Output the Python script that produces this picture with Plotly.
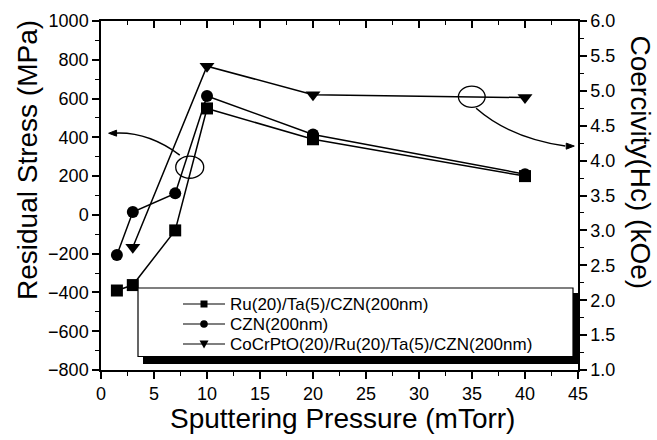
import plotly.graph_objects as go

# ---- data ----
pressure_ru = [1.5, 3, 7, 10, 20, 40]
stress_ru = [-390, -362, -80, 549, 390, 200]

pressure_czn = [1.5, 3, 7, 10, 20, 40]
stress_czn = [-207, 15, 111, 613, 415, 210]

pressure_co = [3, 10, 20, 40]
stress_co = [-167, 767, 620, 605]

series_names = ["Ru(20)/Ta(5)/CZN(200nm)", "CZN(200nm)", "CoCrPtO(20)/Ru(20)/Ta(5)/CZN(200nm)"]
series_symbols = ["square", "circle", "triangle-down"]
series_sizes = [12, 12, 13]

x_ticks = [0, 5, 10, 15, 20, 25, 30, 35, 40, 45]
left_ticks = [-800, -600, -400, -200, 0, 200, 400, 600, 800, 1000]
right_ticks = [1.0, 1.5, 2.0, 2.5, 3.0, 3.5, 4.0, 4.5, 5.0, 5.5, 6.0]

FONT = "Liberation Sans, Arial, Helvetica, sans-serif"

# plot area in page pixels
L, R, T, B = 101, 578, 21, 370
W, H = R - L, B - T


def px(x):
    return (x - L) / W


def py(y):
    return (B - y) / H


fig = go.Figure()
xs = [pressure_ru, pressure_czn, pressure_co]
ys = [stress_ru, stress_czn, stress_co]
for x, y, sym, sz, nm in zip(xs, ys, series_symbols, series_sizes, series_names):
    fig.add_trace(go.Scatter(
        x=x, y=y, mode="lines+markers", showlegend=False, name=nm,
        line=dict(color="black", width=1.5),
        marker=dict(symbol=sym, size=sz, color="black"),
    ))

# anchor traces for the secondary axes
fig.add_trace(go.Scatter(x=[None], y=[None], yaxis="y2", showlegend=False, hoverinfo="skip"))
fig.add_trace(go.Scatter(x=[None], y=[None], xaxis="x2", showlegend=False, hoverinfo="skip"))

axis_common = dict(showline=True, linecolor="black", linewidth=1.5, showgrid=False,
                   zeroline=False, tickcolor="black", tickwidth=1.5,
                   tickfont=dict(family=FONT, size=18, color="black"))

shapes = [
    # ellipses
    dict(type="circle", xref="x", yref="y", x0=7.05, x1=9.69, y0=189, y1=303,
         line=dict(color="black", width=1.3)),
    dict(type="circle", xref="x", yref="y", x0=33.72, x1=36.24, y0=554, y1=664,
         line=dict(color="black", width=1.3)),
    # curved arrows
    dict(type="path", xref="x", yref="y", path="M 7.43,308 Q 4.40,432 1.19,421",
         line=dict(color="black", width=1.5)),
    dict(type="path", xref="x", yref="y", path="M 0.72,421 L 1.47,437 L 1.47,406 Z",
         line=dict(color="black", width=1), fillcolor="black"),
    dict(type="path", xref="x", yref="y", path="M 35.39,550 Q 38.60,396 43.80,355",
         line=dict(color="black", width=1.5)),
    dict(type="path", xref="x", yref="y", path="M 44.65,355 L 43.89,370 L 43.89,339 Z",
         line=dict(color="black", width=1), fillcolor="black"),
    # legend box shadow + box
    dict(type="rect", xref="paper", yref="paper", x0=px(143), x1=px(578.5),
         y0=py(364), y1=py(293), layer="above",
         line=dict(width=0), fillcolor="black"),
    dict(type="rect", xref="paper", yref="paper", x0=px(138), x1=px(573),
         y0=py(356.5), y1=py(288), layer="above",
         line=dict(color="black", width=1.2), fillcolor="white"),
]

annotations = [
    dict(text="Residual Stress (MPa)", xref="paper", yref="paper",
         x=px(27.5), y=py(160.5), textangle=-90,
         xanchor="center", yanchor="middle", showarrow=False,
         font=dict(family=FONT, size=28, color="black")),
    dict(text="Coercivity(Hc) (kOe)", xref="paper", yref="paper",
         x=px(640), y=py(162.5), textangle=90,
         xanchor="center", yanchor="middle", showarrow=False,
         font=dict(family=FONT, size=28, color="black")),
    dict(text="Sputtering Pressure (mTorr)", xref="paper", yref="paper",
         x=px(342.5), y=py(418),
         xanchor="center", yanchor="middle", showarrow=False,
         font=dict(family=FONT, size=28, color="black")),
]

# legend drawn as keys + text inside the box
row_y = [304, 324, 344]
key_x0, key_x1, key_mid, text_x = 183, 225, 204, 228
for name, sym, ry in zip(series_names, series_symbols, row_y):
    shapes.append(dict(type="line", xref="paper", yref="paper", layer="above",
                       x0=px(key_x0), x1=px(key_x1), y0=py(ry), y1=py(ry),
                       line=dict(color="black", width=1.2)))
    if sym == "square":
        shapes.append(dict(type="rect", xref="paper", yref="paper", layer="above",
                           x0=px(key_mid - 3.5), x1=px(key_mid + 3.5),
                           y0=py(ry + 3.5), y1=py(ry - 3.5),
                           line=dict(width=0), fillcolor="black"))
    elif sym == "circle":
        shapes.append(dict(type="circle", xref="paper", yref="paper", layer="above",
                           x0=px(key_mid - 3.8), x1=px(key_mid + 3.8),
                           y0=py(ry + 3.8), y1=py(ry - 3.8),
                           line=dict(width=0), fillcolor="black"))
    else:
        shapes.append(dict(type="path", xref="paper", yref="paper", layer="above",
                           path=f"M {px(key_mid - 4.5)},{py(ry - 3.5)} L {px(key_mid + 4.5)},{py(ry - 3.5)} "
                                f"L {px(key_mid)},{py(ry + 4.5)} Z",
                           line=dict(width=0), fillcolor="black"))
    annotations.append(dict(text=name, xref="paper", yref="paper", x=px(text_x), y=py(ry),
                            xanchor="left", yanchor="middle", showarrow=False,
                            font=dict(family=FONT, size=17, color="black")))

fig.update_layout(
    width=657, height=440,
    margin=dict(l=L, r=657 - R, t=T, b=440 - B),
    paper_bgcolor="white", plot_bgcolor="white",
    font=dict(family=FONT, color="black"),
    showlegend=False,
    xaxis=dict(range=[0, 45], tickvals=x_ticks, ticks="outside", ticklen=7,
               minor=dict(dtick=2.5, tick0=0, ticks="outside", ticklen=4, tickcolor="black", tickwidth=1.2),
               **axis_common),
    xaxis2=dict(range=[0, 45], overlaying="x", side="top", anchor="y", tickvals=x_ticks,
                ticks="inside", ticklen=7, showticklabels=False,
                minor=dict(dtick=2.5, tick0=0, ticks="inside", ticklen=4, tickcolor="black", tickwidth=1.2),
                **axis_common),
    yaxis=dict(range=[-800, 1000], tickvals=left_ticks, ticks="outside", ticklen=7,
               minor=dict(dtick=100, tick0=0, ticks="outside", ticklen=4, tickcolor="black", tickwidth=1.2),
               **axis_common),
    yaxis2=dict(range=[1, 6], overlaying="y", side="right", anchor="x", tickvals=right_ticks,
                tickformat=".1f", ticks="outside", ticklen=7,
                minor=dict(dtick=0.25, tick0=1, ticks="outside", ticklen=4, tickcolor="black", tickwidth=1.2),
                **axis_common),
    shapes=shapes,
    annotations=annotations,
)

fig.write_html("out.html", config={"displayModeBar": False},
               post_script="document.body.style.margin='0px';")
